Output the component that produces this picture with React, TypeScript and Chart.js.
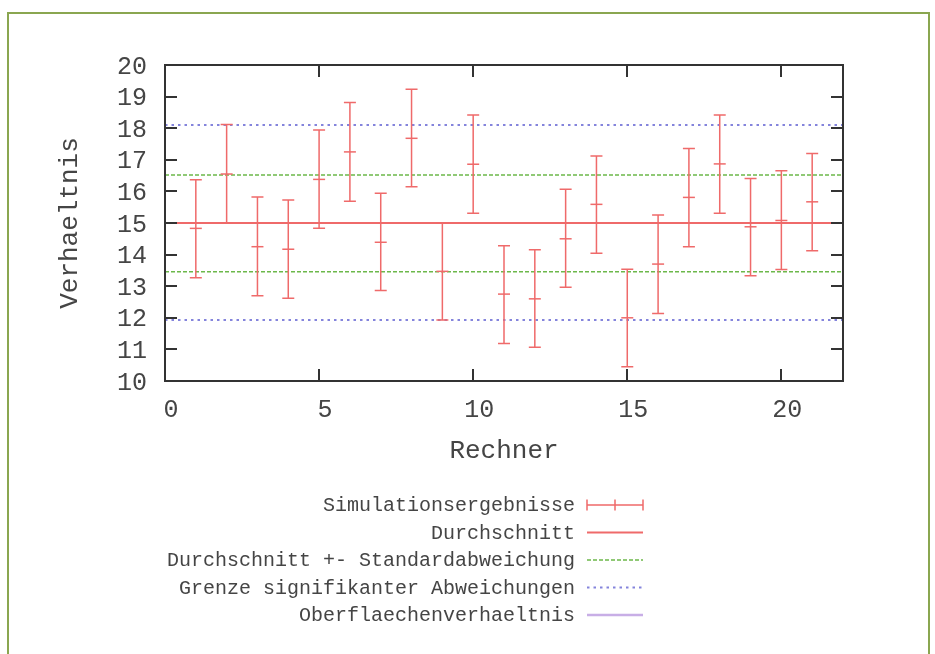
import React, { useEffect, useRef } from 'react';
import { Chart, registerables } from 'chart.js';

Chart.register(...registerables);

// ---- data ----
const runs = [1, 2, 3, 4, 5, 6, 7, 8, 9, 10, 11, 12, 13, 14, 15, 16, 17, 18, 19, 20, 21];
const centers = [14.83, 16.55, 14.25, 14.17, 16.38, 17.25, 14.39, 17.68, 13.47, 16.86, 12.75, 12.6, 14.5, 15.59, 12.0, 13.7, 15.81, 16.87, 14.88, 15.08, 15.67];
const lows = [13.27, 15.0, 12.7, 12.62, 14.83, 15.69, 12.86, 16.15, 11.93, 15.31, 11.19, 11.07, 12.97, 14.04, 10.45, 12.14, 14.25, 15.31, 13.33, 13.53, 14.12];
const highs = [16.37, 18.12, 15.82, 15.73, 17.94, 18.81, 15.94, 19.23, 15.0, 18.42, 14.28, 14.15, 16.07, 17.12, 13.54, 15.25, 17.36, 18.42, 16.41, 16.65, 17.2];
const meanValue = 15.0;
const stdBand = [13.46, 16.52];
const sigBand = [11.93, 18.1];
const surfaceRatio = 15.0;
const xRange = [0, 22];
const yRange = [10, 20];
const xTickValues = [0, 5, 10, 15, 20];
const seriesLabels = [
  'Simulationsergebnisse',
  'Durchschnitt',
  'Durchschnitt +- Standardabweichung',
  'Grenze signifikanter Abweichungen',
  'Oberflaechenverhaeltnis',
];

const RED = '#ef6a6a';
const GREEN = '#6cb84a';
const BLUE = '#8484dc';
const PURPLE = '#c8aee6';
const TEXT = '#454545';
const FONT = "'Liberation Mono', 'DejaVu Sans Mono', monospace";

const hLine = (y: number) => [
  { x: xRange[0], y },
  { x: xRange[1], y },
];
const band = (lo: number, hi: number) => [
  { x: xRange[0], y: hi },
  { x: xRange[1], y: hi },
  { x: xRange[1], y: null },
  { x: xRange[0], y: lo },
  { x: xRange[1], y: lo },
];

const errorBarPlugin = {
  id: 'errorBars',
  afterDatasetsDraw(chart: any) {
    const { ctx, chartArea, scales } = chart;
    const xs = scales.x;
    const ys = scales.y;
    ctx.save();
    ctx.beginPath();
    ctx.rect(chartArea.left, chartArea.top, chartArea.right - chartArea.left, chartArea.bottom - chartArea.top);
    ctx.clip();
    ctx.strokeStyle = RED;
    ctx.lineWidth = 1.5;
    const cap = 6;
    runs.forEach((r, i) => {
      const px = xs.getPixelForValue(r);
      const pl = ys.getPixelForValue(lows[i]);
      const ph = ys.getPixelForValue(highs[i]);
      ctx.beginPath();
      ctx.moveTo(px, pl);
      ctx.lineTo(px, ph);
      ctx.moveTo(px - cap, pl);
      ctx.lineTo(px + cap, pl);
      ctx.moveTo(px - cap, ph);
      ctx.lineTo(px + cap, ph);
      ctx.stroke();
    });
    ctx.restore();
  },
};

const framePlugin = {
  id: 'gnuFrame',
  afterDraw(chart: any) {
    const { ctx, chartArea, scales } = chart;
    const { left, right, top, bottom } = chartArea;
    ctx.save();
    ctx.strokeStyle = '#333333';
    ctx.lineWidth = 2;
    ctx.strokeRect(left, top, right - left, bottom - top);
    const tl = 12;
    ctx.beginPath();
    scales.y.ticks.forEach((t: any) => {
      const py = Math.round(scales.y.getPixelForValue(t.value));
      ctx.moveTo(left, py);
      ctx.lineTo(left + tl, py);
      ctx.moveTo(right, py);
      ctx.lineTo(right - tl, py);
    });
    scales.x.ticks.forEach((t: any) => {
      const px = Math.round(scales.x.getPixelForValue(t.value));
      ctx.moveTo(px, bottom);
      ctx.lineTo(px, bottom - tl);
      ctx.moveTo(px, top);
      ctx.lineTo(px, top + tl);
    });
    ctx.stroke();

    // legend (gnuplot style, right-aligned text, sample on the right)
    const textRight = 575;
    const sx0 = 587;
    const sx1 = 643;
    const y0 = 505;
    const dy = 27.5;
    ctx.font = `20px ${FONT}`;
    ctx.textAlign = 'right';
    ctx.textBaseline = 'middle';
    seriesLabels.forEach((label, i) => {
      const y = y0 + i * dy;
      ctx.fillStyle = TEXT;
      ctx.fillText(label, textRight, y + 1);
      ctx.beginPath();
      ctx.setLineDash([]);
      if (i === 0) {
        ctx.strokeStyle = RED;
        ctx.lineWidth = 1.5;
        ctx.moveTo(sx0, y);
        ctx.lineTo(sx1, y);
        [sx0, (sx0 + sx1) / 2, sx1].forEach((x) => {
          ctx.moveTo(x, y - 5.5);
          ctx.lineTo(x, y + 5.5);
        });
      } else if (i === 1) {
        ctx.strokeStyle = RED;
        ctx.lineWidth = 2;
        ctx.moveTo(sx0, y);
        ctx.lineTo(sx1, y);
      } else if (i === 2) {
        ctx.strokeStyle = GREEN;
        ctx.lineWidth = 1.5;
        ctx.setLineDash([4, 2]);
        ctx.moveTo(sx0, y);
        ctx.lineTo(sx1, y);
      } else if (i === 3) {
        ctx.strokeStyle = BLUE;
        ctx.lineWidth = 2;
        ctx.setLineDash([2.5, 4]);
        ctx.moveTo(sx0, y);
        ctx.lineTo(sx1, y);
      } else {
        ctx.strokeStyle = PURPLE;
        ctx.lineWidth = 2.5;
        ctx.moveTo(sx0, y);
        ctx.lineTo(sx1, y);
      }
      ctx.stroke();
    });
    ctx.restore();
  },
};

export default function App() {
  const canvasRef = useRef<HTMLCanvasElement | null>(null);

  useEffect(() => {
    if (!canvasRef.current) return;
    const lineBase = { type: 'scatter' as const, showLine: true, pointRadius: 0, fill: false };
    const chart = new Chart(canvasRef.current, {
      type: 'scatter',
      data: {
        datasets: [
          {
            label: seriesLabels[0],
            data: runs.map((x, i) => ({ x, y: centers[i] })),
            showLine: false,
            pointStyle: 'line',
            pointRadius: 6,
            borderColor: RED,
            backgroundColor: RED,
            borderWidth: 1.5,
          },
          { ...lineBase, label: seriesLabels[1], data: hLine(meanValue), borderColor: RED, borderWidth: 2 },
          { ...lineBase, label: seriesLabels[2], data: band(stdBand[0], stdBand[1]), borderColor: GREEN, borderWidth: 1.5, borderDash: [4, 2], spanGaps: false },
          { ...lineBase, label: seriesLabels[3], data: band(sigBand[0], sigBand[1]), borderColor: BLUE, borderWidth: 2, borderDash: [2.5, 4], spanGaps: false },
          { ...lineBase, label: seriesLabels[4], data: hLine(surfaceRatio), borderColor: PURPLE, borderWidth: 2 },
        ] as any,
      },
      options: {
        animation: false,
        responsive: false,
        events: [],
        layout: { padding: { left: 0, top: 65, right: 92, bottom: 183 } },
        plugins: {
          legend: { display: false },
          tooltip: { enabled: false },
        },
        scales: {
          x: {
            type: 'linear',
            min: xRange[0],
            max: xRange[1],
            afterBuildTicks: (scale: any) => {
              scale.ticks = xTickValues.map((v) => ({ value: v }));
            },
            afterFit: (scale: any) => {
              scale.height = 90;
            },
            grid: { display: false, drawTicks: false },
            border: { display: false },
            ticks: {
              color: TEXT,
              font: { family: FONT, size: 25 },
              padding: 14,
              labelOffset: 6,
              maxRotation: 0,
              autoSkip: false,
            },
            title: {
              display: true,
              text: 'Rechner',
              color: TEXT,
              font: { family: FONT, size: 26 },
              padding: { top: 0, bottom: 4 },
            },
          },
          y: {
            type: 'linear',
            min: yRange[0],
            max: yRange[1],
            afterFit: (scale: any) => {
              scale.width = 165;
            },
            grid: { display: false, drawTicks: false },
            border: { display: false },
            ticks: {
              stepSize: 1,
              autoSkip: false,
              color: TEXT,
              font: { family: FONT, size: 25 },
              padding: 18,
              labelOffset: 2,
            },
            title: {
              display: true,
              text: 'Verhaeltnis',
              color: TEXT,
              font: { family: FONT, size: 26 },
              padding: { top: 55, bottom: 0 },
            },
          },
        },
      },
      plugins: [errorBarPlugin, framePlugin],
    });
    return () => chart.destroy();
  }, []);

  return (
    <div style={{ position: 'fixed', left: 0, top: 0, width: 935, height: 654, background: '#ffffff' }}>
      <div
        style={{
          position: 'absolute',
          left: 7,
          top: 12,
          width: 923,
          height: 660,
          borderLeft: '2px solid #8aa650',
          borderRight: '2px solid #8aa650',
          borderTop: '2px solid #8aa650',
          boxSizing: 'border-box',
        }}
      />
      <canvas ref={canvasRef} width={935} height={654} style={{ position: 'absolute', left: 0, top: 0, width: 935, height: 654 }} />
    </div>
  );
}
